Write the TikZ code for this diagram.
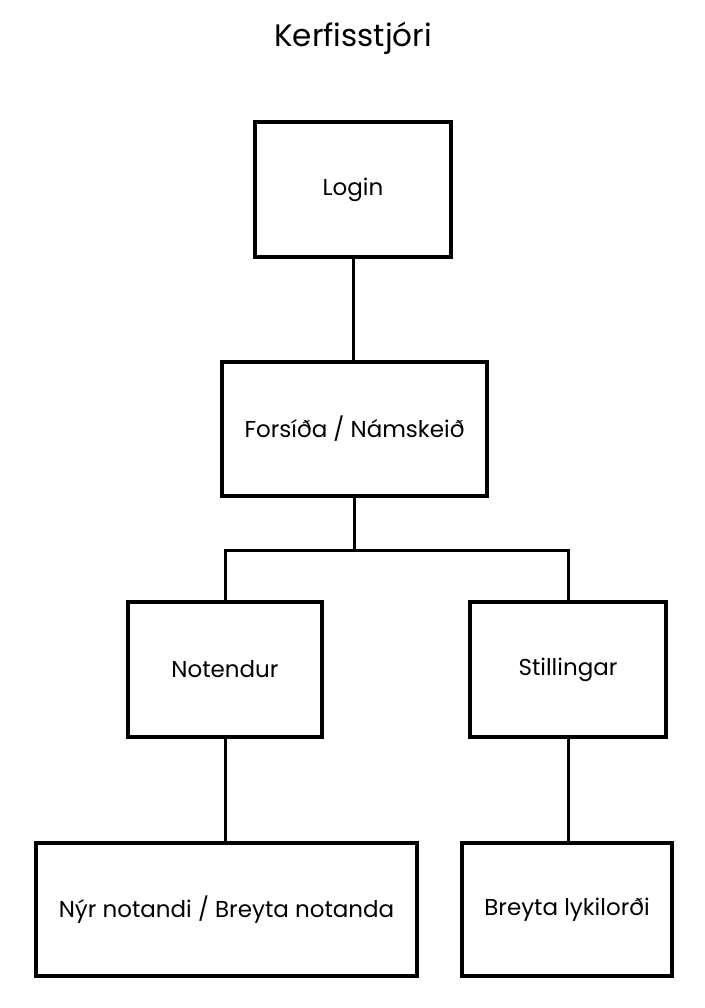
\documentclass[tikz,border=0pt]{standalone}
\usepackage{fontspec}
\setmainfont{Poppins}
\begin{document}
\begin{tikzpicture}[x=1pt,y=-1pt,
  box/.style={draw=black, line width=3.5pt, fill=white, rectangle, inner sep=0pt, font=\fontsize{23}{27}\selectfont},
  link/.style={draw=black, line width=3pt}]
\useasboundingbox (0,0) rectangle (704,1008);
\node[font=\fontsize{31}{36}\selectfont] (title) at (353,38) {Kerfisstjóri};
\node[box, minimum width=196pt, minimum height=135pt] (login) at (353,189.5) {Login};
\node[box, minimum width=265pt, minimum height=134pt] (fors) at (354.5,429) {Forsíða / Námskeið};
\node[box, minimum width=194pt, minimum height=135pt] (not) at (225,669.5) {Notendur};
\node[box, minimum width=196pt, minimum height=135pt] (still) at (568,669.5) {Stillingar};
\node[box, minimum width=381pt, minimum height=133pt] (nyr) at (226.5,909.5) {Nýr notandi / Breyta notanda};
\node[box, minimum width=210pt, minimum height=133pt] (lyk) at (567,909.5) {Breyta lykilorði};
\coordinate (bus) at (0,550);
\draw[link] (login.south) -- (fors.north -| login.south);
\draw[link] (fors.south) -- (fors.south |- bus) -| (not.north);
\draw[link] (fors.south |- bus) -| (still.north);
\draw[link] (not.south) -- (not.south |- nyr.north);
\draw[link] (still.south) -- (still.south |- lyk.north);
\end{tikzpicture}
\end{document}
